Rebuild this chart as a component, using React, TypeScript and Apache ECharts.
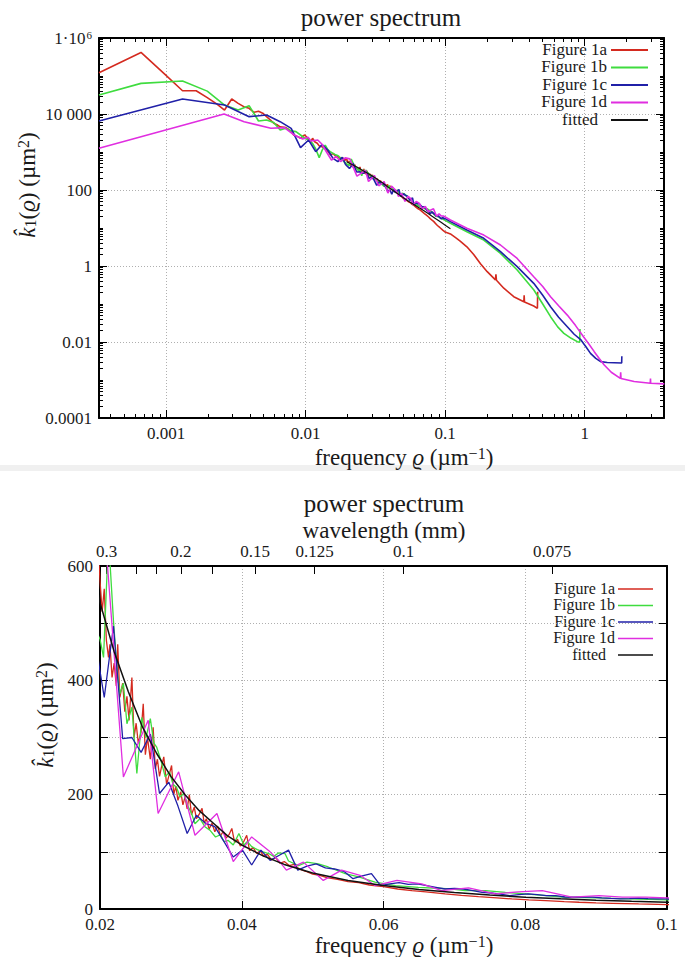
import React, { useEffect, useRef } from "react";
import * as echarts from "echarts";

type Pt = [number, number];

const FONT = "Liberation Serif";

const seriesNames = ["Figure 1a", "Figure 1b", "Figure 1c", "Figure 1d", "fitted"];
const seriesColors = ["#d42a1f", "#3fdc3f", "#2020a8", "#e02ee0", "#111111"];

// frequency ϱ (µm^-1), k̂1(ϱ) (µm^2)
const figure1a: Pt[] = [
  [0.00033, 122000], [0.00066, 417000], [0.00098, 110000], [0.00131, 41000], [0.00164, 41000],
  [0.00197, 27000], [0.0023, 18500], [0.00262, 12700], [0.00295, 24900], [0.00328, 19100],
  [0.0036, 15600], [0.00393, 14100], [0.00426, 11100], [0.00459, 11800], [0.00492, 10500],
  [0.00524, 8500], [0.00557, 7000], [0.0059, 5700], [0.00623, 5200], [0.00656, 4600],
  [0.00721, 4400], [0.00754, 3950], [0.00787, 3400], [0.0082, 2800], [0.00885, 2500],
  [0.00918, 2300], [0.0095, 2600], [0.00984, 2800], [0.0105, 2200], [0.0109, 1870],
  [0.0112, 2300], [0.0116, 1860], [0.0121, 1700], [0.0125, 1450], [0.0131, 1380],
  [0.0138, 1250], [0.0144, 1050], [0.0151, 830], [0.0157, 920], [0.0164, 780],
  [0.017, 760], [0.0177, 680], [0.0184, 700], [0.019, 610], [0.0197, 640],
  [0.02, 575], [0.0203, 520], [0.0206, 560], [0.0209, 470], [0.0212, 440],
  [0.0214, 463], [0.0217, 405], [0.022, 430], [0.0223, 390], [0.0225, 463],
  [0.0228, 370], [0.0232, 395], [0.0235, 345], [0.0238, 372], [0.0241, 330],
  [0.0245, 405], [0.0248, 300], [0.0251, 325], [0.0254, 290], [0.0258, 310],
  [0.0261, 359], [0.0264, 270], [0.0267, 300], [0.0271, 262], [0.0275, 318],
  [0.0278, 245], [0.0281, 262], [0.0284, 232], [0.0287, 250], [0.029, 266],
  [0.0294, 218], [0.0297, 232], [0.0301, 251], [0.0304, 200], [0.0307, 215],
  [0.031, 190], [0.0314, 205], [0.0317, 182], [0.032, 196], [0.0323, 175],
  [0.0326, 200], [0.0329, 165], [0.0333, 178], [0.0336, 158], [0.034, 166],
  [0.0344, 176], [0.0347, 150], [0.035, 158], [0.0354, 140], [0.0358, 150],
  [0.0362, 135], [0.0366, 145], [0.037, 128], [0.0374, 136], [0.0378, 124],
  [0.0382, 130], [0.0386, 141], [0.039, 116], [0.0394, 122], [0.0398, 110],
  [0.0402, 116], [0.0407, 129], [0.0411, 102], [0.0416, 108], [0.0421, 97],
  [0.0426, 102], [0.0431, 92], [0.0436, 96], [0.0442, 86], [0.0448, 90],
  [0.0454, 80], [0.046, 83], [0.0467, 76], [0.0474, 78], [0.0481, 70],
  [0.049, 66], [0.05, 61], [0.051, 59], [0.052, 55], [0.0535, 52],
  [0.055, 48], [0.0565, 46], [0.058, 42], [0.06, 39], [0.062, 35],
  [0.064, 32], [0.066, 30], [0.0687, 26.5], [0.071, 24], [0.0734, 21.8],
  [0.076, 19.5], [0.0781, 17.6], [0.0805, 16], [0.0829, 14.7], [0.0855, 13],
  [0.0876, 11.8], [0.09, 10.8], [0.0923, 10], [0.096, 8.8], [0.1, 7.8],
  [0.109, 7], [0.12, 5.4], [0.128, 4.5], [0.143, 3.2], [0.16, 2.0],
  [0.179, 1.15], [0.2, 0.71], [0.229, 0.43], [0.231, 0.6], [0.233, 0.42],
  [0.263, 0.26], [0.31, 0.156], [0.366, 0.115], [0.368, 0.17], [0.37, 0.113],
  [0.431, 0.0885], [0.458, 0.077], [0.46, 0.21],
];

const figure1b: Pt[] = [
  [0.00033, 31600], [0.00066, 64000], [0.00131, 73800], [0.00197, 40000], [0.00262, 17200],
  [0.00328, 12700], [0.00393, 16600], [0.00459, 6550], [0.00524, 6950], [0.0059, 6000],
  [0.00656, 3790], [0.00721, 4200], [0.00787, 3600], [0.00852, 3430], [0.00918, 2800],
  [0.00984, 2300], [0.0105, 2070], [0.0112, 1690], [0.0118, 1200], [0.0125, 710],
  [0.0131, 1100], [0.0138, 1520], [0.0144, 1150], [0.0151, 1000], [0.0157, 920],
  [0.0164, 840], [0.0171, 800], [0.0177, 700], [0.0184, 620], [0.019, 540],
  [0.0197, 480], [0.02, 472], [0.0205, 440], [0.0212, 650], [0.0219, 504],
  [0.0224, 420], [0.0228, 376], [0.0233, 395], [0.0238, 324], [0.0245, 353],
  [0.0252, 237], [0.0259, 335], [0.0265, 300], [0.0271, 333], [0.0276, 290],
  [0.028, 283], [0.0286, 260], [0.0292, 231], [0.0298, 240], [0.0303, 218],
  [0.0308, 213], [0.0313, 196], [0.0318, 202], [0.0324, 180], [0.0329, 168],
  [0.0334, 149], [0.0341, 158], [0.0348, 144], [0.0355, 138], [0.0363, 126],
  [0.037, 130], [0.0375, 118], [0.0381, 120], [0.0388, 112], [0.0396, 132],
  [0.0403, 112], [0.0408, 118], [0.0414, 109], [0.0422, 104], [0.043, 100],
  [0.0438, 97], [0.0445, 92], [0.0452, 98], [0.0461, 97], [0.0466, 84],
  [0.048, 76], [0.0492, 82], [0.0508, 79], [0.0522, 73.5], [0.0546, 62],
  [0.0565, 56], [0.0588, 47], [0.0617, 41], [0.0649, 38], [0.0697, 35],
  [0.0715, 32], [0.0744, 32], [0.0772, 29], [0.08, 26.5], [0.0829, 23.5],
  [0.0852, 20.6], [0.0899, 19.4], [0.0946, 17.6], [0.1, 15.9],
  [0.109, 13.3], [0.143, 8.0], [0.189, 4.83], [0.249, 2.15], [0.328, 0.785],
  [0.432, 0.233], [0.5, 0.1], [0.569, 0.0464], [0.64, 0.025], [0.709, 0.0169],
  [0.8, 0.0125], [0.885, 0.0102], [0.92, 0.0098], [0.925, 0.022],
];

const figure1c: Pt[] = [
  [0.00033, 6550], [0.00131, 24800], [0.00262, 17300], [0.00393, 8510], [0.00524, 9420],
  [0.00656, 6280], [0.00787, 4200], [0.00918, 1300], [0.0105, 2070], [0.0118, 1020],
  [0.0131, 1580], [0.0144, 1130], [0.0157, 680], [0.017, 560], [0.0183, 720],
  [0.0193, 470], [0.0206, 370], [0.0219, 495], [0.0232, 298], [0.0245, 300],
  [0.0258, 274], [0.0271, 306], [0.0284, 202], [0.0297, 222], [0.031, 180],
  [0.0323, 132], [0.0336, 164], [0.0349, 150], [0.0362, 144], [0.0375, 118],
  [0.0388, 91], [0.0401, 103], [0.0414, 77], [0.0427, 103], [0.044, 85],
  [0.0453, 94], [0.0466, 103], [0.0479, 68], [0.0492, 75], [0.0505, 79],
  [0.0518, 72], [0.0531, 70], [0.0544, 66], [0.0557, 53], [0.057, 58],
  [0.0583, 62], [0.0596, 41], [0.0609, 44], [0.0622, 46], [0.0635, 43],
  [0.0648, 44], [0.0661, 41], [0.0674, 38], [0.0687, 35], [0.07, 36],
  [0.0713, 35], [0.0726, 32], [0.0739, 29], [0.0752, 28], [0.0765, 26],
  [0.0778, 23.5], [0.0791, 25], [0.0804, 26.5], [0.0817, 25], [0.083, 23.5],
  [0.0843, 23.5], [0.0856, 21], [0.0869, 20.6], [0.0882, 21], [0.0895, 20.6],
  [0.0908, 19.5], [0.0921, 18.5], [0.0934, 17.6], [0.0947, 18], [0.096, 19],
  [0.0973, 18], [0.0986, 17.6], [0.0999, 17.6],
  [0.109, 14.7], [0.143, 8.9], [0.189, 5.35], [0.249, 2.38], [0.328, 0.96],
  [0.431, 0.35], [0.5, 0.17], [0.569, 0.085], [0.65, 0.045], [0.75, 0.0253],
  [0.84, 0.016], [0.94, 0.0113], [1.02, 0.0075], [1.1, 0.00503], [1.2, 0.0037],
  [1.3, 0.00304], [1.45, 0.0029], [1.63, 0.00285], [1.84, 0.0028], [1.845, 0.0042],
];

const figure1d: Pt[] = [
  [0.00033, 1250], [0.0026, 10000], [0.00362, 6290], [0.00563, 4200], [0.00703, 4370],
  [0.00828, 2800], [0.0095, 2200], [0.0104, 2450], [0.0109, 1950], [0.0122, 2070],
  [0.0131, 1600], [0.0141, 1000], [0.0153, 615], [0.0165, 760], [0.0178, 560],
  [0.0192, 700], [0.0207, 660], [0.0233, 231], [0.0268, 330], [0.0282, 167],
  [0.0311, 240], [0.0334, 129], [0.0365, 167], [0.0388, 83], [0.0414, 126],
  [0.044, 100], [0.0452, 85], [0.0463, 68], [0.0487, 82], [0.0515, 50],
  [0.0541, 68], [0.0567, 59], [0.0588, 41], [0.0619, 50], [0.0654, 44],
  [0.0682, 32], [0.072, 37], [0.0758, 26.5], [0.079, 30], [0.0824, 32],
  [0.0866, 20.6], [0.0904, 23.5], [0.0937, 20.6], [0.097, 20.6], [0.1, 19.4],
  [0.109, 16.2], [0.143, 9.8], [0.189, 6.5], [0.249, 3.57], [0.328, 1.58],
  [0.431, 0.52], [0.5, 0.29], [0.569, 0.156], [0.65, 0.09], [0.75, 0.051],
  [0.86, 0.027], [0.98, 0.0138], [1.08, 0.0085], [1.17, 0.00557], [1.27, 0.0037],
  [1.38, 0.00248], [1.55, 0.0016], [1.8, 0.0011], [1.81, 0.0016], [1.82, 0.0011],
  [2.26, 0.00091], [2.95, 0.00082], [2.96, 0.0011], [2.97, 0.00082], [3.72, 0.00079],
];

const fitted: Pt[] = [
  [0.0196, 560], [0.02, 536], [0.022, 450], [0.024, 380], [0.026, 318],
  [0.028, 272], [0.03, 232], [0.032, 200], [0.034, 172], [0.036, 150],
  [0.038, 128], [0.04, 112], [0.043, 93], [0.046, 78], [0.05, 63],
  [0.055, 50], [0.06, 41], [0.065, 34], [0.07, 29], [0.075, 24.5],
  [0.08, 20.6], [0.085, 17.8], [0.09, 15.5], [0.095, 13.5], [0.1, 11.8],
  [0.109, 9.6],
];

const seriesData = [figure1a, figure1b, figure1c, figure1d, fitted];

// axis ranges and tick labels
const freqRange = [0.00033, 3.7];
const powerRange = [1e-4, 1e6];
const freqMajorTicks = [0.001, 0.01, 0.1, 1];
const freqMajorLabels = ["0.001", "0.01", "0.1", "1"];
const powerMajorTicks = [1e-4, 1e-2, 1, 1e2, 1e4, 1e6];
const powerMajorLabels = ["0.0001", "0.01", "1", "100", "10 000", "1·10{sup|6}"];
const zoomFreqRange = [0.02, 0.1];
const zoomFreqStep = 0.02;
const zoomPowerRange = [0, 600];
const zoomPowerStep = 100;
const zoomPowerLabelled = [0, 200, 400, 600];
const wavelengthLabelled = [0.3, 0.2, 0.15, 0.125, 0.1, 0.075];
const wavelengthUnlabelled = [0.25, 0.225, 0.175];

const wavelengthToFreq = (lam: number) => (2 * Math.PI) / (1000 * lam);
const freqToWavelength = (f: number) => (2 * Math.PI) / (1000 * f);

function logMinorTicks(lo: number, hi: number, skip: number[]) {
  const out: number[] = [];
  for (let k = -6; k <= 7; k++) {
    for (let m = 1; m <= 9; m++) {
      const v = m * Math.pow(10, k);
      if (v < lo * 0.9999 || v > hi * 1.0001) continue;
      if (skip.some((s) => Math.abs(s - v) / s < 1e-6)) continue;
      out.push(v);
    }
  }
  return out;
}

function lookup(v: number, ticks: number[], labels: string[]) {
  for (let i = 0; i < ticks.length; i++) {
    if (Math.abs(Math.log10(v) - Math.log10(ticks[i])) < 1e-6) return labels[i];
  }
  return "";
}

function buildOption() {
  const gridLine = { color: "#9a9a9a", width: 0.8, type: [1, 2] };
  const border = { show: true, onZero: false, lineStyle: { color: "#000", width: 2 } };
  const noLine = { show: false, onZero: false };
  const labelText = { fontFamily: FONT, fontSize: 17, color: "#1a1a1a" };
  const tickLine = { color: "#000", width: 1 };
  const xMinor = logMinorTicks(freqRange[0], freqRange[1], freqMajorTicks);
  const yMinor = logMinorTicks(powerRange[0], powerRange[1], powerMajorTicks);

  const logX = (position: string, ticks: number[], len: number, line: boolean, labels: boolean, split: boolean) => ({
    type: "log", logBase: 10, gridIndex: 0, position, min: freqRange[0], max: freqRange[1],
    axisLine: line ? border : noLine,
    axisTick: { show: true, inside: true, length: len, customValues: ticks, lineStyle: tickLine },
    axisLabel: labels
      ? { show: true, customValues: freqMajorTicks, margin: 8, lineHeight: 15, formatter: (v: number) => lookup(v, freqMajorTicks, freqMajorLabels), ...labelText }
      : { show: false },
    splitLine: split ? { show: true, lineStyle: gridLine } : { show: false },
    minorTick: { show: false }, minorSplitLine: { show: false },
  });
  const logY = (position: string, ticks: number[], len: number, line: boolean, labels: boolean, split: boolean) => ({
    type: "log", logBase: 10, gridIndex: 0, position, min: powerRange[0], max: powerRange[1],
    axisLine: line ? border : noLine,
    axisTick: { show: true, inside: true, length: len, customValues: ticks, lineStyle: tickLine },
    axisLabel: labels
      ? {
          show: true, customValues: powerMajorTicks, margin: 7,
          formatter: (v: number) => lookup(v, powerMajorTicks, powerMajorLabels), ...labelText,
          rich: { sup: { fontFamily: FONT, fontSize: 11, color: "#1a1a1a", verticalAlign: "top", padding: [0, 0, 0, 1] } },
        }
      : { show: false },
    splitLine: split ? { show: true, lineStyle: gridLine } : { show: false },
    minorTick: { show: false }, minorSplitLine: { show: false },
  });

  const fmtNum = (v: number) => String(parseFloat(v.toFixed(4)));

  const xAxis = [
    logX("bottom", freqMajorTicks, 8, true, true, true),
    logX("bottom", xMinor, 4, false, false, false),
    logX("top", freqMajorTicks, 8, true, false, false),
    logX("top", xMinor, 4, false, false, false),
    {
      type: "value", gridIndex: 1, position: "bottom", min: zoomFreqRange[0], max: zoomFreqRange[1], interval: zoomFreqStep,
      axisLine: border,
      axisTick: { show: true, inside: true, length: 8, lineStyle: tickLine },
      axisLabel: { show: true, margin: 8, lineHeight: 14, formatter: fmtNum, ...labelText },
      splitLine: { show: true, lineStyle: gridLine },
    },
    {
      type: "value", gridIndex: 1, position: "top", min: zoomFreqRange[0], max: zoomFreqRange[1],
      axisLine: border,
      axisTick: {
        show: true, inside: true, length: 8, lineStyle: tickLine,
        customValues: [...wavelengthLabelled, ...wavelengthUnlabelled].map(wavelengthToFreq),
      },
      axisLabel: {
        show: true, margin: 6, customValues: wavelengthLabelled.map(wavelengthToFreq),
        formatter: (f: number) => String(parseFloat(freqToWavelength(f).toFixed(3))), ...labelText,
      },
      splitLine: { show: false },
    },
  ];

  const yAxis = [
    logY("left", powerMajorTicks, 8, true, true, true),
    logY("left", yMinor, 4, false, false, false),
    logY("right", powerMajorTicks, 8, true, false, false),
    logY("right", yMinor, 4, false, false, false),
    {
      type: "value", gridIndex: 1, position: "left", min: zoomPowerRange[0], max: zoomPowerRange[1], interval: zoomPowerStep,
      axisLine: border,
      axisTick: { show: true, inside: true, length: 8, lineStyle: tickLine },
      axisLabel: {
        show: true, margin: 7, lineHeight: 13, padding: [0, 0, 4, 0], ...labelText,
        formatter: (v: number) => (zoomPowerLabelled.includes(Math.round(v)) ? String(Math.round(v)) : ""),
      },
      splitLine: { show: true, lineStyle: gridLine },
    },
    {
      type: "value", gridIndex: 1, position: "right", min: zoomPowerRange[0], max: zoomPowerRange[1], interval: zoomPowerStep,
      axisLine: border,
      axisTick: { show: true, inside: true, length: 8, lineStyle: tickLine },
      axisLabel: { show: false },
      splitLine: { show: false },
    },
  ];

  const series: any[] = [];
  seriesData.forEach((data, i) => {
    series.push({
      type: "line", name: seriesNames[i], data, xAxisIndex: 0, yAxisIndex: 0,
      showSymbol: false, symbol: "none", clip: true,
      lineStyle: { color: seriesColors[i], width: i === 4 ? 1.2 : 1.6 },
      itemStyle: { color: seriesColors[i] }, z: 2 + i,
    });
  });
  seriesData.forEach((data, i) => {
    series.push({
      type: "line", name: seriesNames[i] + " ", data, xAxisIndex: 4, yAxisIndex: 4,
      showSymbol: false, symbol: "none", clip: true,
      lineStyle: { color: seriesColors[i], width: i === 4 ? 1.5 : 1.3 },
      itemStyle: { color: seriesColors[i] }, z: 2 + i,
    });
  });

  const txt = (x: number, y: number, text: string, fontSize: number, extra: any = {}) => ({
    type: "text", x, y, silent: true, rotation: extra.rotation || 0,
    style: {
      text, fontFamily: FONT, fontSize, fill: "#1a1a1a",
      align: extra.align || "center", verticalAlign: "middle",
      lineHeight: extra.lineHeight, rich: extra.rich,
    },
  });
  const nameRich = (fs: number) => ({
    it: { fontFamily: FONT, fontSize: fs, fontStyle: "italic", color: "#1a1a1a" },
    sup: { fontFamily: FONT, fontSize: Math.round(fs * 0.68), verticalAlign: "top", color: "#1a1a1a" },
    sub: { fontFamily: FONT, fontSize: Math.round(fs * 0.68), verticalAlign: "bottom", color: "#1a1a1a" },
  });
  const xName = "frequency {it|ϱ} (µm{sup|−1})";
  const yName = "{it|k̂}{sub|1}({it|ϱ}) (µm{sup|2})";

  const graphic: any[] = [
    { type: "rect", silent: true, shape: { x: 0, y: 465, width: 685, height: 6 }, style: { fill: "#f0f0f0" } },
    txt(381, 17, "power spectrum", 25),
    txt(404, 457, xName, 23, { rich: nameRich(23) }),
    txt(27, 185, yName, 23, { rich: nameRich(23), rotation: Math.PI / 2 }),
    txt(384, 503, "power spectrum", 25),
    txt(384, 530, "wavelength (mm)", 23),
    txt(404, 945, xName, 23, { rich: nameRich(23) }),
    txt(45, 715, yName, 23, { rich: nameRich(23), rotation: Math.PI / 2 }),
  ];
  const legendTop = { textRight: 607, fittedRight: 598, x1: 611, x2: 648, y0: 49, dy: 17.5, lw: 2, fs: 17 };
  const legendBottom = { textRight: 615, fittedRight: 606, x1: 618, x2: 653, y0: 588, dy: 16.5, lw: 1.6, fs: 16 };
  [legendTop, legendBottom].forEach((L) => {
    seriesNames.forEach((name, i) => {
      const y = L.y0 + i * L.dy;
      graphic.push(txt(i === 4 ? L.fittedRight : L.textRight, y, name, L.fs, { align: "right", lineHeight: 14 }));
      graphic.push({
        type: "line", silent: true,
        shape: { x1: L.x1, y1: y + 1, x2: L.x2, y2: y + 1 },
        style: { stroke: seriesColors[i], lineWidth: L.lw },
      });
    });
  });

  return {
    animation: false,
    backgroundColor: "#ffffff",
    textStyle: { fontFamily: FONT },
    grid: [
      { left: 99, top: 38, width: 565, height: 380, containLabel: false, outerBoundsMode: "none" },
      { left: 100, top: 566, width: 567, height: 343, containLabel: false, outerBoundsMode: "none" },
    ],
    xAxis,
    yAxis,
    series,
    graphic,
  };
}

export default function App() {
  const ref = useRef<HTMLDivElement>(null);
  useEffect(() => {
    document.body.style.margin = "0";
    const chart = echarts.init(ref.current as HTMLDivElement, null, { renderer: "svg" });
    chart.setOption(buildOption() as any);
    return () => chart.dispose();
  }, []);
  return <div ref={ref} style={{ width: 685, height: 957, background: "#fff" }} />;
}
